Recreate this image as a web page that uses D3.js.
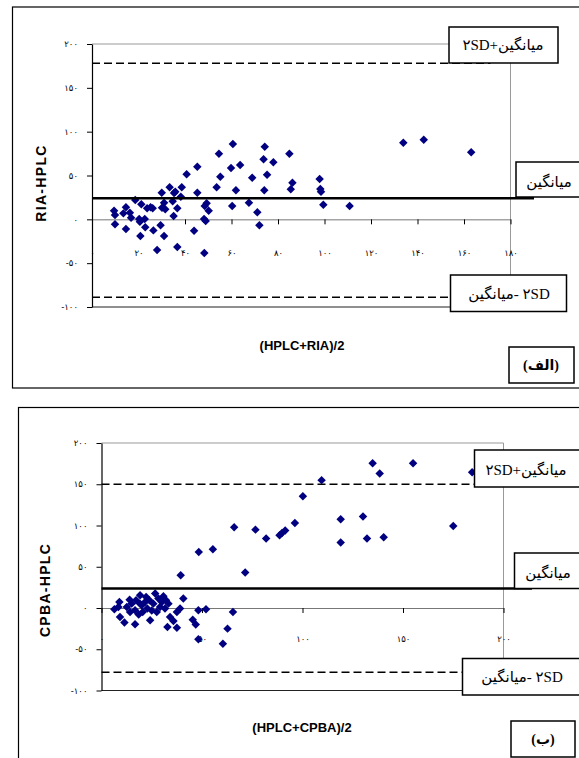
<!DOCTYPE html>
<html>
<head>
<meta charset="utf-8">
<script src="https://cdn.jsdelivr.net/npm/d3@7"></script>
<style>
  body { margin: 0; background: #fff; }
  svg { display: block; }
</style>
</head>
<body>
<div id="chart"></div>
<script>
// ---- data ----
// panel (الف): RIA vs HPLC
var riaAvg = [9.5, 9.9, 9.9, 14.6, 13.5, 14.6, 16.3, 16.8, 18.6, 21.2, 20.3, 20.6, 22.7, 22.9, 20.8, 23.7, 25.2, 26.1, 26.4, 29.5,
              30.0, 30.1, 31.0, 31.5, 31.0, 28.0, 33.4, 35.3, 35.8, 34.7, 36.7, 35.1, 36.7, 38.6, 38.2, 40.7, 45.3, 45.3, 43.9, 48.2,
              48.9, 49.3, 48.5, 50.2, 48.3, 54.6, 55.2, 53.6, 60.6, 59.8, 63.7, 61.9, 60.3, 68.9, 67.5, 71.1, 72.0, 74.3, 73.8, 75.3,
              78.0, 74.1, 84.9, 86.2, 85.5, 97.9, 98.2, 98.5, 99.5, 110.8, 133.9, 142.7, 163.1];
var riaDiff = [9.8, 4.9, -5.7, 13.7, 6.8, -11.1, 7.5, 1.8, 22, 17.1, 0.3, -2.7, 0.3, -9.1, -19.1, 12.6, 13.7, 12.6, -12.6, -6.8,
               30.4, 13.2, 19, 11.4, -19.1, -35, 36.5, 30, 31.5, 20.5, 12.6, 3.8, -31.6, 36.5, 25.8, 51.4, 60, 30.4, -13, 0.3,
               -1.9, 18.3, 15.2, 9.8, -38.5, 74.9, 48.6, 36.5, 86, 58.6, 62, 33.1, 15.2, 47.5, 19, 8, -6.8, 82.9, 68.5, 50.9,
               65.1, 33.1, 74.9, 41.8, 34.2, 46, 34.6, 31.5, 16.7, 15.2, 87.4, 90.9, 76.5];
var riaLines = [24, 178, -89];   // mean, mean+2SD, mean-2SD

// panel (ب): CPBA vs HPLC
var cpbaAvg = [39.4, 48.4, 55.4, 66, 71.5, 76.6, 81.9, 88.6, 89.8, 91.4, 96.2, 100.2, 109.5, 134.9, 138.4, 155, 184.4, 119, 130.1, 119,
               132.1, 140.4, 175,
               40.7, 39.1, 37.5, 34.1, 35.8, 32.8, 37.5, 48.2, 52, 65.4, 45.4, 46.9, 48.2, 62.7, 60.4,
               6.4, 8.9, 9.2, 11.4, 12.6, 14.2, 15, 16.7, 16.7, 17.2, 19.2, 20, 20.5, 21.7, 22.8, 24.2, 23.8, 25.8, 26.7, 27.5,
               28.3, 29.1, 30, 31.6, 32.1, 33.3, 30.8, 22.2, 8.4, 19.2, 14, 25, 18.5];
var cpbaDiff = [39.6, 67.9, 71.2, 97.8, 42.9, 95, 84.1, 88.1, 90.9, 93.8, 103, 135.4, 155, 175.4, 162.9, 175.4, 164.5, 107.5, 110.8, 79.3,
                84.1, 85.7, 99.4,
                11.4, -0.7, -4.8, -10.9, -15.8, -23, -23.8, -2.8, -1.6, -4.8, -14.1, -20.1, -37.9, -25, -43.2,
                -1.6, 7.3, -10.9, -17.7, 1.2, -4.8, 5.3, -19.8, -2.8, 9.3, 15.4, 3.3, -4.8, 7.3, -0.7, -14.9, 9.3, 5.3, 17.5, -4.8,
                11.4, 1.2, 7.3, -0.7, 9.3, 5.3, 14.2, 13.3, 1.2, 5.3, 10, -3, -8];
var cpbaLines = [23.5, 150, -78];

// axis ticks
var yTicks = [200, 150, 100, 50, 0, -50, -100];
var yTickLabels = ["۲۰۰", "۱۵۰", "۱۰۰", "۵۰", "۰", "-۵۰", "-۱۰۰"];
var riaXTicks = [0, 20, 40, 60, 80, 100, 120, 140, 160, 180];
var riaXLabels = ["۰", "۲۰", "۴۰", "۶۰", "۸۰", "۱۰۰", "۱۲۰", "۱۴۰", "۱۶۰", "۱۸۰"];
var cpbaXTicks = [0, 50, 100, 150, 200];
var cpbaXLabels = ["۰", "۵۰", "۱۰۰", "۱۵۰", "۲۰۰"];

var W = 579, H = 758;
var svg = d3.select("#chart").append("svg")
  .attr("width", W)
  .attr("height", H);

var markerPath = d3.symbol().type(d3.symbolSquare).size(36)();

function box(g, x, y, w, h, text, tx, ty, bold) {
  g.append("rect")
    .attr("x", x).attr("y", y).attr("width", w).attr("height", h)
    .attr("fill", "#fff").attr("stroke", "#000").attr("stroke-width", 1.5);
  g.append("text")
    .attr("x", tx).attr("y", ty)
    .attr("text-anchor", "middle")
    .style("font-family", "'Liberation Serif', 'DejaVu Sans', serif")
    .style("font-size", bold ? "14px" : "15px")
    .style("font-weight", bold ? "bold" : "normal")
    .text(text);
}

function drawPanel(p) {
  var g = svg.append("g");

  // outer frame
  g.append("rect")
    .attr("x", p.frame[0]).attr("y", p.frame[1])
    .attr("width", p.frame[2]).attr("height", p.frame[3])
    .attr("fill", "none").attr("stroke", "#000").attr("stroke-width", 1.2);

  var x = d3.scaleLinear().domain([0, p.xMax]).range([p.left, p.right]);
  var y = d3.scaleLinear().domain([-100, 200]).range([p.bottom, p.top]);

  // plot area border (grey top / right, dark bottom)
  g.append("path")
    .attr("d", "M" + p.left + "," + y(200) + "H" + p.right + "V" + y(-100))
    .attr("fill", "none").attr("stroke", "#999").attr("stroke-width", 1);
  g.append("line")
    .attr("x1", p.left).attr("x2", p.right)
    .attr("y1", y(-100)).attr("y2", y(-100))
    .attr("stroke", "#222").attr("stroke-width", 1.2);

  // x axis at zero
  var xAxis = g.append("g")
    .attr("transform", "translate(0," + y(0) + ")")
    .call(d3.axisBottom(x).tickValues(p.xTicks).tickSize(5).tickSizeOuter(0)
      .tickFormat(function (d, i) { return p.xLabels[i]; }));
  xAxis.select(".domain").attr("stroke", "#777");
  xAxis.selectAll(".tick line").attr("stroke", "#000");
  xAxis.selectAll("text")
    .attr("y", y(-38) - y(0))
    .attr("dy", "0.35em")
    .style("font-family", "'DejaVu Sans'")
    .style("font-size", "8.5px");

  // limit lines
  g.append("line")
    .attr("x1", p.left).attr("x2", p.right - 20)
    .attr("y1", y(p.lines[1])).attr("y2", y(p.lines[1]))
    .attr("stroke", "#000").attr("stroke-width", 1.5).attr("stroke-dasharray", "8,4");
  g.append("line")
    .attr("x1", p.left).attr("x2", p.right - 20)
    .attr("y1", y(p.lines[2])).attr("y2", y(p.lines[2]))
    .attr("stroke", "#000").attr("stroke-width", 1.5).attr("stroke-dasharray", "8,4");

  // points
  g.selectAll("path.pt")
    .data(p.xs)
    .enter().append("path")
    .attr("class", "pt")
    .attr("d", markerPath)
    .attr("transform", function (d, i) {
      return "translate(" + x(d) + "," + y(p.ys[i]) + ") rotate(45)";
    })
    .attr("fill", "#000080");

  // mean line
  g.append("line")
    .attr("x1", p.left).attr("x2", p.meanEnd)
    .attr("y1", y(p.lines[0])).attr("y2", y(p.lines[0]))
    .attr("stroke", "#000").attr("stroke-width", 2.5);

  // y axis
  var yAxis = g.append("g")
    .attr("transform", "translate(" + p.left + ",0)")
    .call(d3.axisLeft(y).tickValues(yTicks).tickSize(5).tickSizeOuter(0).tickPadding(9)
      .tickFormat(function (d, i) { return yTickLabels[i]; }));
  yAxis.select(".domain").attr("stroke", "#000").attr("stroke-width", 1.2);
  yAxis.selectAll("text")
    .style("font-family", "'DejaVu Sans'")
    .style("font-size", "8.5px");

  // titles
  g.append("text")
    .attr("x", 302).attr("y", p.xTitleY)
    .attr("text-anchor", "middle")
    .style("font-family", "'Liberation Sans', Arial, sans-serif")
    .style("font-size", "13px").style("font-weight", "bold")
    .text(p.xTitle);
  g.append("text")
    .attr("transform", "translate(" + p.yTitleX + "," + p.yTitleY + ") rotate(-90)")
    .attr("text-anchor", "middle")
    .attr("dy", "0.35em")
    .style("font-family", "'Liberation Sans', Arial, sans-serif")
    .style("font-size", "14px").style("font-weight", "bold")
    .style("letter-spacing", "1.3px")
    .text(p.yTitle);

  // boxed labels
  p.boxes.forEach(function (b) { box(g, b[0], b[1], b[2], b[3], b[4], b[5], b[6], b[7]); });
}

drawPanel({
  frame: [12.5, 7, 600, 381],
  left: 92, right: 510.5, top: 44, bottom: 307,
  xMax: 180, xTicks: riaXTicks, xLabels: riaXLabels,
  xs: riaAvg, ys: riaDiff, lines: riaLines, meanEnd: 534,
  xTitle: "(HPLC+RIA)/2", xTitleY: 350,
  yTitle: "RIA-HPLC", yTitleX: 41, yTitleY: 183,
  boxes: [
    [449, 27, 109, 36, "۲SD+میانگین", 503, 50, false],
    [516, 162, 70, 35, "میانگین", 549, 187, false],
    [450.5, 275, 116, 36.5, "میانگین\u200E- ۲SD", 509, 299, false],
    [509, 347, 65, 36, "(الف)", 541, 370, true]
  ]
});

drawPanel({
  frame: [18.5, 407.5, 600, 400],
  left: 101.5, right: 503.5, top: 443, bottom: 690.5,
  xMax: 200, xTicks: cpbaXTicks, xLabels: cpbaXLabels,
  xs: cpbaAvg, ys: cpbaDiff, lines: cpbaLines, meanEnd: 532,
  xTitle: "(HPLC+CPBA)/2", xTitleY: 732,
  yTitle: "CPBA-HPLC", yTitleX: 45, yTitleY: 590,
  boxes: [
    [474.5, 450, 110, 37, "۲SD+میانگین", 526, 475, false],
    [514.5, 553, 70, 35.5, "میانگین", 548, 578, false],
    [462.5, 658.5, 122, 36.5, "میانگین\u200E- ۲SD", 522, 682, false],
    [511, 721, 64, 36, "(ب)", 543, 744, true]
  ]
});
</script>
</body>
</html>
